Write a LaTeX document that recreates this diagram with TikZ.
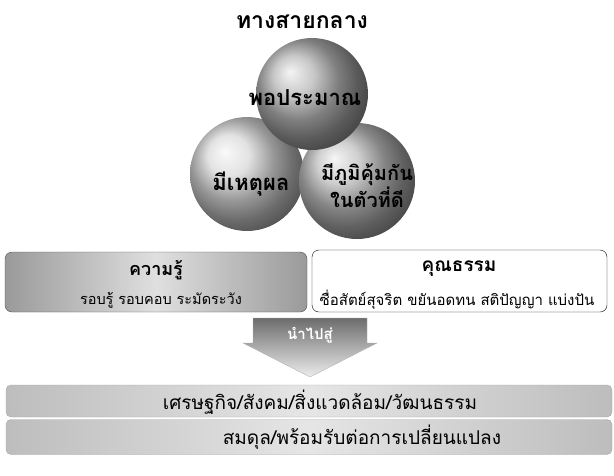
\documentclass[tikz,border=0pt]{standalone}
\usepackage{fontspec}
\newfontfamily\thaifont[Script=Thai]{Loma}
\usetikzlibrary{positioning}
\definecolor{boxgray}{HTML}{9a9a9a}
\definecolor{bargray}{HTML}{bdbdbd}

\begin{document}
\begin{tikzpicture}[x=1pt,y=-1pt,
		sphere/.style={circle,inner sep=0pt,minimum size=#1,shading=ball},
		balltext/.style={font=\thaifont\bfseries\fontsize{22}{25}\selectfont,align=center},
		bartext/.style={font=\thaifont\fontsize{19}{22}\selectfont},
		resultbar/.style={draw=gray!70,rounded corners=5pt,minimum width=606,minimum height=32,
			shading=axis,left color=bargray,right color=bargray,middle color=gray!20}]
		\useasboundingbox (0,0) rectangle (614,475);
		% title
		\node[font=\thaifont\bfseries\fontsize{23}{26}\selectfont] (title) at (302,22) {ทางสายกลาง};
		% three spheres
		\node[sphere=114,ball color=gray!30] (reason) at (247,174) {};
		\node[sphere=116,ball color=gray!50] (immune) at (357,181) {};
		\node[sphere=112,ball color=gray!58] (moderate) at (312,94) {};
		\node[balltext] (moderatetext) at (305,98) {พอประมาณ};
		\node[balltext] (reasontext) at (251,184) {มีเหตุผล};
		\node[balltext,font=\thaifont\bfseries\fontsize{20}{27}\selectfont] (immunetext) at (367,186) {มีภูมิคุ้มกัน\\ในตัวที่ดี};
		% knowledge and virtue
		\node[draw=gray!60!black,rounded corners=7pt,minimum width=302,minimum height=60,
			shading=axis,left color=boxgray,right color=boxgray,middle color=gray!25] (knowledge) at (156,282) {};
		\node[draw=black,fill=white,rounded corners=7pt,minimum width=295,minimum height=62] (virtue) at (459.5,281) {};
		\node[font=\thaifont\bfseries\fontsize{18}{20}\selectfont] (knowtitle) at (156,270) {ความรู้};
		\node[font=\thaifont\fontsize{14.5}{16}\selectfont] (knowsub) at (161,300) {รอบรู้ รอบคอบ ระมัดระวัง};
		\node[font=\thaifont\bfseries\fontsize{19}{21}\selectfont] (virtuetitle) at (459,269) {คุณธรรม};
		\node[font=\thaifont\fontsize{15}{17}\selectfont] (virtuesub) at (457,300) {ซื่อสัตย์สุจริต ขยันอดทน สติปัญญา แบ่งปัน};
		% arrow
		\shade[top color=gray!85!black,bottom color=gray!15,draw=gray!60]
			(253,318) -- (367,318) -- (367,343) -- (377,343) -- (310,377) -- (243,343) -- (253,343) -- cycle;
		\node[font=\thaifont\bfseries\fontsize{15}{18}\selectfont,text=white] (leadsto) at (310,335) {นำไปสู่};
		% results
		\node[resultbar] (sectors) at (309,401) {};
		\node[resultbar,minimum height=35] (balance) at (309,437) {};
		\node[bartext] (sectorstext) at (320,402) {เศรษฐกิจ/สังคม/สิ่งแวดล้อม/วัฒนธรรม};
		\node[bartext] (balancetext) at (362,437) {สมดุล/พร้อมรับต่อการเปลี่ยนแปลง};
	\end{tikzpicture}
\end{document}
